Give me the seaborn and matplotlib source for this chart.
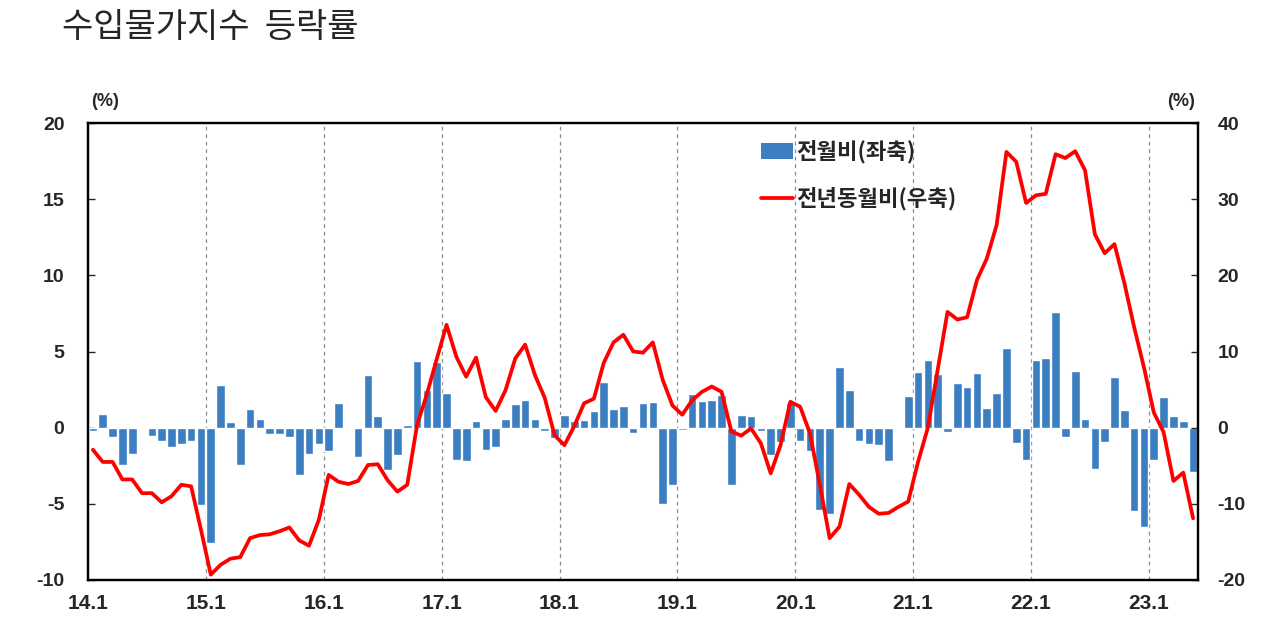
import numpy as np
import pandas as pd
import matplotlib
matplotlib.use("Agg")
import matplotlib.pyplot as plt
import seaborn as sns
from matplotlib.patches import Patch
from matplotlib.lines import Line2D

# ---- data ----
years = list(range(14, 24))
months_last_year = 5
labels = [f"{y}.{m}" for y in years for m in range(1, 13)][: 9 * 12 + months_last_year]

mom = [  # 전월비 (좌축, %)
    -0.25, 0.9, -0.6, -2.45, -1.7, -0.1, -0.55, -0.85, -1.25, -1.05, -0.9, -5.1,
    -7.6, 2.8, 0.35, -2.45, 1.25, 0.6, -0.4, -0.4, -0.6, -3.1, -1.7, -1.05,
    -1.55, 1.6, 0.05, -1.9, 3.45, 0.75, -2.8, -1.8, 0.2, 4.4, 2.5, 4.3,
    2.25, -2.1, -2.2, 0.45, -1.45, -1.25, 0.55, 1.55, 1.8, 0.6, -0.25, -0.65,
    0.85, 0.45, 0.5, 1.1, 3.0, 1.25, 1.4, -0.35, 1.65, 1.7, -5.0, -3.75,
    -0.15, 2.2, 1.75, 1.8, 2.15, -3.75, 0.8, 0.75, -0.25, -1.8, -0.95, 1.65,
    -0.85, -1.5, -5.4, -5.7, 4.0, 2.45, -0.85, -1.1, -1.15, -2.2, -0.05, 2.05,
    3.65, 4.45, 3.5, -0.3, 2.95, 2.7, 3.6, 1.3, 2.3, 5.2, -1.0, -2.1,
    4.45, 4.55, 7.6, -0.6, 3.75, 0.6, -2.7, -0.95, 3.35, 1.15, -5.5, -6.5,
    -2.1, 2.0, 0.75, 0.45, -2.9,
]

yoy = [  # 전년동월비 (우축, %)
    -2.9, -4.5, -4.5, -6.8, -6.8, -8.6, -8.6, -9.8, -9.0, -7.5, -7.7, -13.4,
    -19.3, -18.0, -17.2, -17.0, -14.5, -14.1, -14.0, -13.6, -13.1, -14.8, -15.5, -12.1,
    -6.2, -7.1, -7.4, -7.0, -4.9, -4.8, -6.9, -8.4, -7.5, 0.35, 4.4, 9.0,
    13.5, 9.3, 6.7, 9.2, 4.0, 2.2, 4.9, 9.1, 10.9, 6.9, 3.9, -1.0,
    -2.3, 0.2, 3.2, 3.8, 8.5, 11.2, 12.2, 10.0, 9.85, 11.2, 6.3, 2.9,
    1.7, 3.6, 4.7, 5.4, 4.7, -0.5, -1.05, -0.1, -2.05, -6.0, -2.3, 3.4,
    2.75, -0.75, -7.5, -14.5, -13.0, -7.4, -8.8, -10.4, -11.3, -11.2, -10.4, -9.7,
    -4.5, 0.0, 7.6, 15.2, 14.2, 14.5, 19.4, 22.2, 26.6, 36.2, 34.9, 29.5,
    30.5, 30.7, 35.9, 35.4, 36.3, 33.8, 25.4, 22.9, 24.1, 19.0, 13.2, 7.9,
    2.0, -0.6, -7.0, -5.9, -11.9,
]

xtick_labels = [f"{y}.1" for y in years]
left_ticks = [-10, -5, 0, 5, 10, 15, 20]
right_ticks = [-20, -10, 0, 10, 20, 30, 40]

title = "수입물가지수  등락률"
bar_label = "전월비(좌축)"
line_label = "전년동월비(우축)"

BLUE = "#3B7EC2"
RED = "#FF0000"

# ---- style ----
sns.set_style("white")
plt.rcParams["font.family"] = ["Liberation Sans", "Noto Sans CJK KR", "DejaVu Sans"]

df = pd.DataFrame({"month": labels, "mom": mom, "yoy": yoy, "idx": np.arange(len(labels))})

fig = plt.figure(figsize=(12.8, 6.41), dpi=100)
ax = fig.add_axes([88 / 1280, 61 / 641, 1110 / 1280, 457 / 641])

sns.barplot(data=df, x="month", y="mom", order=labels, color=BLUE, saturation=1,
            width=0.88, ax=ax, zorder=2)

for k in range(1, len(years)):
    ax.axvline(12 * k - 0.5, color="#8a8a8a", linestyle=(0, (3, 3)), linewidth=0.9, zorder=0)

ax.set_xlim(-0.5, len(labels) - 0.5)
ax.set_ylim(-10, 20)
ax.set_yticks(left_ticks)
ax.set_yticklabels([str(t) for t in left_ticks])
ax.set_xticks([12 * k - 0.5 for k in range(len(years))])
ax.set_xticklabels(xtick_labels)
ax.set_xlabel("")
ax.set_ylabel("")

ax2 = ax.twinx()
sns.lineplot(data=df, x="idx", y="yoy", color=RED, linewidth=2.7, ax=ax2, zorder=3)
ax2.set_ylim(-20, 40)
ax2.set_yticks(right_ticks)
ax2.set_yticklabels([str(t) for t in right_ticks])
ax2.set_ylabel("")
ax2.set_xlim(-0.5, len(labels) - 0.5)

for a in (ax, ax2):
    for s in a.spines.values():
        s.set_visible(True)
        s.set_color("black")
        s.set_linewidth(1.6)

ax.tick_params(axis="y", direction="in", length=5, width=1, pad=17, labelsize=14)
ax.tick_params(axis="x", length=0, pad=10, labelsize=15)
ax2.tick_params(axis="y", direction="in", length=5, width=1, pad=14, labelsize=14)
for lab in ax.get_yticklabels() + ax.get_xticklabels() + ax2.get_yticklabels():
    lab.set_fontweight("bold")

# (%) unit labels
fig.text(105 / 1280, 1 - 101 / 641, "(%)", ha="center", va="center", fontsize=13, fontweight="bold")
fig.text(1181 / 1280, 1 - 101 / 641, "(%)", ha="center", va="center", fontsize=13, fontweight="bold")

# title
fig.text(62 / 1280, 1 - 27 / 641, title, ha="left", va="center", fontsize=24.5,
         family=["Noto Sans CJK KR", "DejaVu Sans"])

# legend
handles = [Patch(facecolor=BLUE, edgecolor="none"),
           Line2D([0], [0], color=RED, linewidth=2.7)]
leg = fig.legend(handles, [bar_label, line_label], loc="upper left",
                 bbox_to_anchor=(761 / 1280, 1 - 140 / 641), frameon=False,
                 borderpad=0, borderaxespad=0, handlelength=1.45, handletextpad=0.15,
                 labelspacing=1.05,
                 prop={"family": ["Noto Sans CJK KR", "DejaVu Sans"], "weight": "bold", "size": 16})

fig.savefig("out.png", dpi=100)
